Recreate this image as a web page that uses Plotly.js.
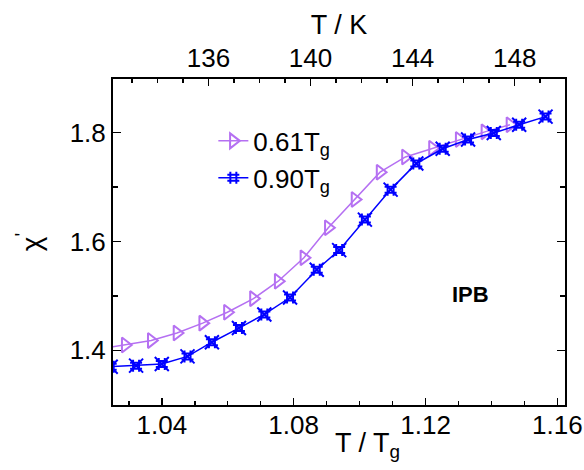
<!DOCTYPE html>
<html>
<head>
<meta charset="utf-8">
<script src="https://cdn.plot.ly/plotly-3.0.1.min.js"></script>
<style>
  html, body { margin: 0; padding: 0; background: #fff; }
  #plot { width: 584px; height: 470px; }
</style>
</head>
<body>
<div id="plot"></div>
<script>
// T/Tg values
var xLow = [1.0212, 1.0289, 1.0368, 1.0446, 1.0524, 1.0599, 1.0678, 1.0753, 1.0831,
  1.0905, 1.0986, 1.1062, 1.1139, 1.1221, 1.1302, 1.1380, 1.1456];
var chiLow = [1.403, 1.410, 1.418, 1.432, 1.450, 1.470, 1.495, 1.527, 1.570,
  1.625, 1.677, 1.727, 1.755, 1.771, 1.787, 1.801, 1.814];

var xHigh = [1.0245, 1.0322, 1.0400, 1.0478, 1.0552, 1.0634, 1.0711, 1.0789, 1.0870,
  1.0938, 1.1016, 1.1094, 1.1172, 1.1252, 1.1329, 1.1407, 1.1484, 1.1564];
var chiHigh = [1.370, 1.372, 1.375, 1.389, 1.415, 1.441, 1.466, 1.497, 1.548,
  1.584, 1.640, 1.695, 1.743, 1.770, 1.787, 1.799, 1.814, 1.829];

var names = ['0.61T<sub>g</sub>', '0.90T<sub>g</sub>'];
var topTicks = [136, 140, 144, 148];
var font = 'Arial, "Liberation Sans", sans-serif';

var purple = '#b570f2', blue = '#0000ff';

var trace1 = {
  x: xLow, y: chiLow, name: names[0],
  mode: 'lines+markers',
  line: {color: purple, width: 1.5},
  marker: {symbol: 'triangle-right-open', size: 13, color: purple, line: {width: 2, color: purple}}
};
var trace2 = {
  x: xHigh, y: chiHigh, name: names[1],
  mode: 'lines+markers',
  line: {color: blue, width: 1.5},
  marker: {symbol: 'hash-open', size: 12, color: blue, line: {width: 2, color: blue}}
};
// second layer of the blue symbol (the x strokes)
var trace2b = {
  x: xHigh, y: chiHigh, mode: 'markers', showlegend: false, hoverinfo: 'skip',
  marker: {symbol: 'x-thin-open', size: 14, color: blue, line: {width: 2, color: blue}}
};
// keeps the top T/K axis alive
var topDummy = {
  x: topTicks, y: [1.5, 1.5, 1.5, 1.5], xaxis: 'x2', mode: 'markers',
  marker: {opacity: 0}, showlegend: false, hoverinfo: 'skip'
};

var layout = {
  width: 584, height: 470,
  margin: {l: 113, r: 19, t: 79, b: 65},
  paper_bgcolor: '#fff', plot_bgcolor: '#fff',
  font: {family: font, size: 26, color: '#000'},
  showlegend: true,
  legend: {x: 0.222, y: 0.882, xanchor: 'left', yanchor: 'top', bgcolor: 'rgba(0,0,0,0)',
    font: {size: 26}, tracegroupgap: 0},
  xaxis: {
    range: [1.0252, 1.1623], tickvals: [1.04, 1.08, 1.12, 1.16], ticktext: ['1.04', '1.08', '1.12', '1.16'],
    ticks: 'inside', ticklen: 7, tickwidth: 1.5, tickcolor: '#000',
    minor: {dtick: 0.01, tick0: 1.0, ticks: 'inside', ticklen: 4, tickwidth: 1.5, tickcolor: '#000'},
    showline: true, linewidth: 2, linecolor: '#000', showgrid: false, zeroline: false,
    tickfont: {size: 26}, ticklabelstandoff: -4
  },
  xaxis2: {
    overlaying: 'x', side: 'top', anchor: 'y',
    range: [132.26, 149.97], tickvals: topTicks,
    ticks: 'inside', ticklen: 7, tickwidth: 1.5, tickcolor: '#000',
    minor: {dtick: 1, tick0: 130, ticks: 'inside', ticklen: 4, tickwidth: 1.5, tickcolor: '#000'},
    showline: true, linewidth: 2, linecolor: '#000', showgrid: false, zeroline: false,
    tickfont: {size: 26},
    title: {text: 'T / K', font: {size: 27}, standoff: 0}
  },
  yaxis: {
    range: [1.2998, 1.898], tickvals: [1.4, 1.6, 1.8], ticktext: ['1.4', '1.6', '1.8'],
    ticks: 'inside', ticklen: 8, tickwidth: 1.5, tickcolor: '#000',
    minor: {dtick: 0.1, tick0: 1.3, ticks: 'inside', ticklen: 5, tickwidth: 1.5, tickcolor: '#000'},
    showline: true, linewidth: 2, linecolor: '#000', mirror: 'ticks',
    showgrid: false, zeroline: false,
    tickfont: {size: 26},
    title: {text: 'χ<sup>\'</sup>', font: {size: 28}, standoff: 20}
  },
  annotations: [
    {x: 1.1337, y: 1.502, xref: 'x', yref: 'y', text: '<b>IPB</b>', showarrow: false,
      font: {size: 22, color: '#000'}},
    {x: 0.562, y: -0.122, xref: 'paper', yref: 'paper', text: 'T / T<sub>g</sub>', showarrow: false,
      yanchor: 'middle', font: {size: 27, color: '#000'}}
  ]
};

Plotly.newPlot('plot', [trace1, trace2, trace2b, topDummy], layout, {staticPlot: true});
</script>
</body>
</html>
